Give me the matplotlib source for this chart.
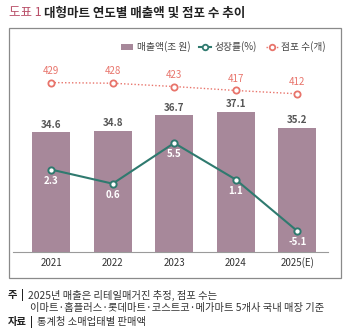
import matplotlib
matplotlib.use("Agg")
import matplotlib.pyplot as plt
from matplotlib.lines import Line2D
from matplotlib.patches import Patch, Rectangle

plt.rcParams['font.family'] = ['Noto Sans CJK KR', 'DejaVu Sans']

years = ["2021", "2022", "2023", "2024", "2025(E)"]
sales = [34.6, 34.8, 36.7, 37.1, 35.2]
growth = [2.3, 0.6, 5.5, 1.1, -5.1]
stores = [429, 428, 423, 417, 412]
legend_labels = ["매출액(조 원)", "성장률(%)", "점포 수(개)"]

BAR_C = "#a7889a"
TEAL = "#2f7a6f"
RED = "#e8746b"
W, H = 348, 333

fig = plt.figure(figsize=(W / 100, H / 100), dpi=100)

# outer box
fig.patches.append(Rectangle((9 / W, 1 - 278 / H), 332 / W, 250 / H, transform=fig.transFigure,
                             fill=False, edgecolor="#8a8a8a", linewidth=0.9))

left, right = 13 / W, 328 / W
bottom, top = 1 - 252 / H, 1 - 40 / H
ax = fig.add_axes([left, bottom, right - left, top - bottom])
x = list(range(len(years)))
ax.bar(x, sales, width=0.62, color=BAR_C, zorder=1)
ax.set_xlim(-0.62, 4.5)
ax.set_ylim(20, 45.9)
for s in ["top", "left", "right"]:
    ax.spines[s].set_visible(False)
ax.spines["bottom"].set_color("#9a9a9a")
ax.spines["bottom"].set_linewidth(0.8)
ax.set_yticks([])
ax.set_xticks(x)
ax.set_xticklabels(years, fontsize=7, color="#333333")
ax.tick_params(axis="x", length=0, pad=4)
for xi, v in zip(x, sales):
    ax.annotate(f"{v}", (xi, v), xytext=(0, 5.5), textcoords="offset points",
                ha="center", va="center", fontsize=7, color="#555555", fontweight="bold")

ax2 = ax.twinx()
ax2.set_ylim(-7.63, 17.91)
ax2.plot(x, growth, color=TEAL, lw=1.5, marker="o", markersize=4.5,
         markerfacecolor="white", markeredgecolor=TEAL, markeredgewidth=1.4, zorder=3)
for xi, v in zip(x, growth):
    ax2.annotate(f"{v}", (xi, v), xytext=(0, -8), textcoords="offset points",
                 ha="center", va="center", fontsize=7, color="white", fontweight="bold")
ax2.axis("off")

ax3 = ax.twinx()
ax3.set_ylim(172.3, 493.5)
ax3.plot(x, stores, color=RED, lw=1, linestyle=(0, (1, 1.5)), marker="o", markersize=4.5,
         markerfacecolor="white", markeredgecolor=RED, markeredgewidth=1.3)
for xi, v in zip(x, stores):
    ax3.annotate(f"{v}", (xi, v), xytext=(0, 8.5), textcoords="offset points",
                 ha="center", va="center", fontsize=7, color=RED)
ax3.axis("off")

handles = [
    Patch(facecolor=BAR_C, edgecolor="none"),
    Line2D([0], [0], color=TEAL, lw=1.5, marker="o", markersize=4, markerfacecolor="white",
           markeredgecolor=TEAL, markeredgewidth=1.3),
    Line2D([0], [0], color=RED, lw=1, linestyle=(0, (1, 1.5)), marker="o", markersize=4,
           markerfacecolor="white", markeredgecolor=RED, markeredgewidth=1.3),
]
leg = fig.legend(handles, legend_labels, loc="center right", bbox_to_anchor=(330 / W, 1 - 47 / H),
                 ncol=3, frameon=False, fontsize=7, handlelength=1.2, handletextpad=0.4,
                 columnspacing=0.9, borderaxespad=0, handleheight=0.7)
for t in leg.get_texts():
    t.set_color("#444444")

# title
t1 = fig.text(9 / W, 1 - 13 / H, "도표 1 ", fontsize=9, color="#b94f68",
              va="center", ha="left")
fig.canvas.draw()
bb = t1.get_window_extent()
fig.text(bb.x1 / W, 1 - 13 / H, "대형마트 연도별 매출액 및 점포 수 추이", fontsize=9,
         fontweight="bold", color="#222222", va="center", ha="left")

# footnotes
FS = 7.4


def row(label, body, y, body_x=None):
    lt = fig.text(8 / W, 1 - y / H, label, fontsize=FS, fontweight="bold", color="#222222", va="center")
    fig.canvas.draw()
    x1 = lt.get_window_extent().x1
    st = fig.text((x1 + 3) / W, 1 - y / H, "|", fontsize=FS, fontweight="bold", color="#222222",
                  va="center")
    fig.canvas.draw()
    x2 = st.get_window_extent().x1
    bx = body_x if body_x is not None else x2 + 4
    fig.text(bx / W, 1 - y / H, body, fontsize=FS, color="#333333", va="center")
    return x2 + 4


bx = row("주", "2025년 매출은 리테일매거진 추정, 점포 수는", 295)
fig.text((bx + 3) / W, 1 - 308.5 / H, "이마트·홈플러스·롯데마트·코스트코·메가마트 5개사 국내 매장 기준",
         fontsize=FS, color="#333333", va="center")
row("자료", "통계청 소매업태별 판매액", 322)

fig.savefig("out.png", dpi=100)
